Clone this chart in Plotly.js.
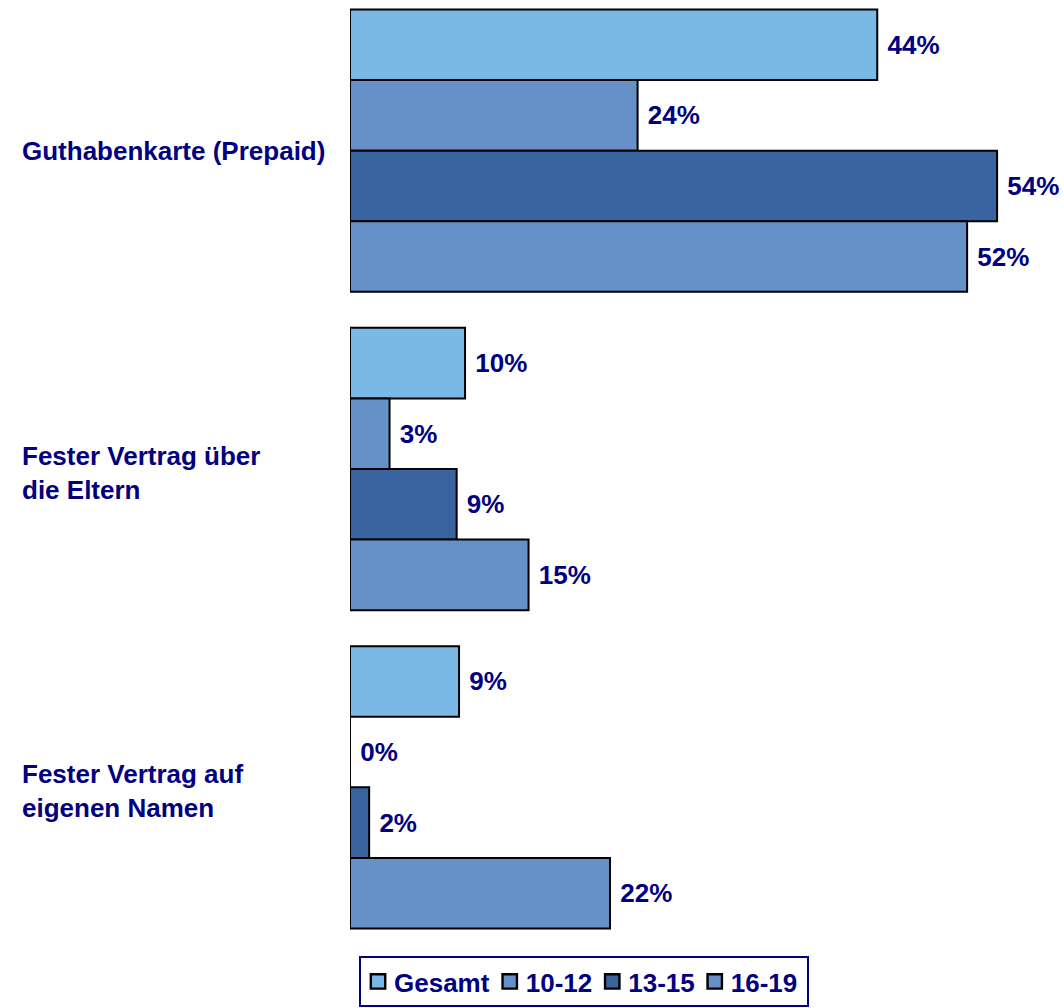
<!DOCTYPE html>
<html>
<head>
<meta charset="utf-8">
<script src="https://cdn.plot.ly/plotly-3.0.1.min.js"></script>
<style>html,body{margin:0;padding:0;background:#fff;}#chart{width:1064px;height:1008px;}</style>
</head>
<body>
<div id="chart"></div>
<script>
const categories = ["Guthabenkarte (Prepaid)", "Fester Vertrag über<br>die Eltern", "Fester Vertrag auf<br>eigenen Namen"];
const seriesNames = ["Gesamt", "10-12", "13-15", "16-19"];
// bar lengths as drawn (unrounded estimates)
const gesamt = [44.0, 9.6, 9.1];
const age10_12 = [24.0, 3.3, 0];
const age13_15 = [54.0, 8.9, 1.6];
const age16_19 = [51.5, 14.9, 21.7];
// printed labels
const gesamtLabels = ["44%", "10%", "9%"];
const age10_12Labels = ["24%", "3%", "0%"];
const age13_15Labels = ["54%", "9%", "2%"];
const age16_19Labels = ["52%", "15%", "22%"];

const seriesValues = [gesamt, age10_12, age13_15, age16_19];
const seriesLabels = [gesamtLabels, age10_12Labels, age13_15Labels, age16_19Labels];
const colors = ["#7ab9e5", "#6590c8", "#3a64a0", "#6590c8"];

const navy = "#000080";
const font = "Liberation Sans, Arial, sans-serif";
const yIdx = categories.map((c, i) => i);

const traces = seriesNames.map((name, s) => ({
  type: "bar",
  orientation: "h",
  name: name,
  x: seriesValues[s],
  y: yIdx,
  text: seriesLabels[s].map(t => " " + t),
  textposition: "outside",
  cliponaxis: false,
  textfont: {family: font, size: 26, color: navy, weight: "bold"},
  marker: {color: colors[s], line: {color: "#000", width: 2}},
  hoverinfo: "skip"
}));

const annotations = categories.map((c, i) => ({
  xref: "paper", yref: "y",
  x: -330 / 707, y: i,
  xanchor: "left", yanchor: "middle", align: "left",
  yshift: c.indexOf("<br>") >= 0 ? -4 : 0,
  text: c, showarrow: false,
  font: {family: font, size: 26, color: navy, weight: "bold"}
}));

const layout = {
  width: 1064, height: 1008,
  margin: {l: 350, r: 7, t: 0, b: 57},
  paper_bgcolor: "#fff", plot_bgcolor: "#fff",
  barmode: "group", bargap: 0.113, bargroupgap: 0,
  xaxis: {range: [0, 59], showgrid: false, zeroline: false, showticklabels: false, showline: false, ticks: ""},
  yaxis: {range: [2.514, -0.4733], showgrid: false, zeroline: false, showticklabels: false, showline: false, ticks: ""},
  showlegend: true,
  legend: {
    orientation: "h", x: 0.331, xanchor: "center",
    yref: "container", y: 52 / 1008, yanchor: "top",
    bordercolor: navy, borderwidth: 2, bgcolor: "#fff",
    font: {family: font, size: 26, color: navy, weight: "bold"},
    traceorder: "normal"
  },
  annotations: annotations
};

function parseTranslate(t) {
  const m = /translate\(\s*([-\d.eE]+)[ ,]+([-\d.eE]+)\s*\)/.exec(t || "");
  return m ? [parseFloat(m[1]), parseFloat(m[2])] : [0, 0];
}

Plotly.newPlot("chart", traces, layout, {displayModeBar: false, staticPlot: true}).then(() => {
  // slightly larger legend swatches
  document.querySelectorAll("#chart .legendpoints path").forEach(p => {
    const t = p.getAttribute("transform") || "";
    p.setAttribute("transform", (t + " translate(4,0) scale(1.2)").trim());
  });
  // tighten legend entry spacing
  const leg = document.querySelector("#chart g.legend");
  if (!leg) return;
  const items = leg.querySelectorAll("g.traces");
  const leftCut = 7, gapCut = 9, rightAdd = 4;
  items.forEach((g, i) => {
    const [x, y] = parseTranslate(g.getAttribute("transform"));
    g.setAttribute("transform", "translate(" + (x - leftCut - gapCut * i) + "," + y + ")");
  });
  const shrink = leftCut + gapCut * (items.length - 1) - rightAdd;
  const bg = leg.querySelector("rect.bg");
  if (bg) {
    const w = parseFloat(bg.getAttribute("width"));
    bg.setAttribute("width", w - shrink);
  }
  const [lx, ly] = parseTranslate(leg.getAttribute("transform"));
  leg.setAttribute("transform", "translate(" + (lx + shrink / 2) + "," + ly + ")");
});
</script>
</body>
</html>
